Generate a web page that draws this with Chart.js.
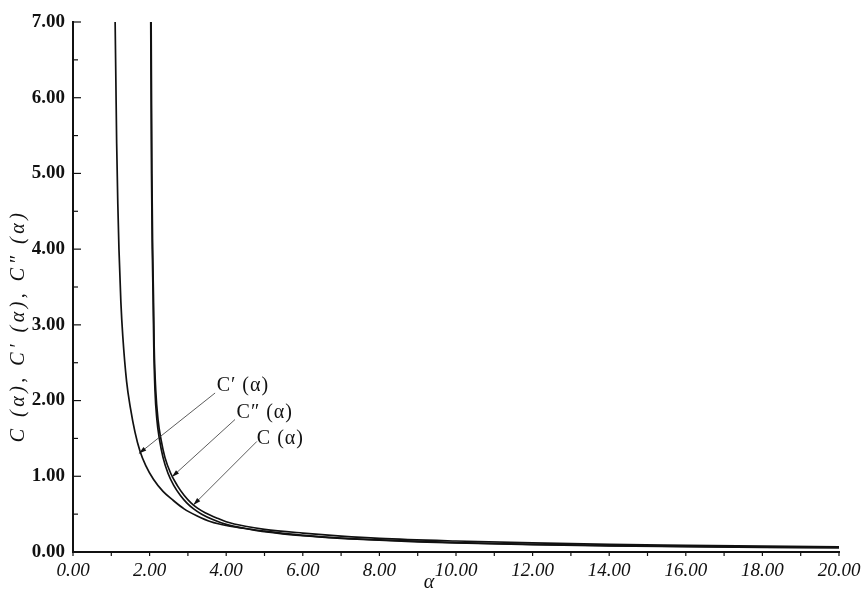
<!DOCTYPE html>
<html>
<head>
<meta charset="utf-8">
<script src="https://cdn.jsdelivr.net/npm/chart.js@4.4.1/dist/chart.umd.min.js"></script>
<style>
    html, body { margin: 0; padding: 0; background: #fff; }
    #wrap { width: 861px; height: 596px; }
</style>
</head>
<body>
<div id="wrap"><canvas id="curveChart" width="861" height="596"></canvas></div>
<script>
// Values (alpha, value)
var alphaCp = [1.10, 1.12, 1.14, 1.17, 1.20, 1.25, 1.30, 1.40, 1.50, 1.62, 1.75, 1.90, 2.10, 2.35, 2.62, 2.90, 3.23, 3.60, 4.00, 4.50, 5.00, 6.00, 7.00, 8.00, 9.00, 10.0, 12.0, 14.0, 16.0, 18.0, 20.0];
var valueCp = [7.00, 6.20, 5.40, 4.60, 4.00, 3.30, 2.85, 2.25, 1.90, 1.58, 1.33, 1.14, 0.96, 0.80, 0.68, 0.57, 0.48, 0.40, 0.35, 0.31, 0.27, 0.215, 0.18, 0.155, 0.135, 0.12, 0.097, 0.082, 0.071, 0.062, 0.056];

var alphaCpp = [2.03, 2.05, 2.07, 2.09, 2.11, 2.14, 2.19, 2.26, 2.35, 2.48, 2.63, 2.80, 2.97, 3.15, 3.36, 3.65, 4.00, 4.50, 5.00, 6.00, 7.00, 8.00, 10.0, 12.0, 14.0, 16.0, 18.0, 20.0];
var valueCpp = [7.00, 5.00, 4.00, 3.40, 2.70, 2.14, 1.75, 1.48, 1.25, 1.04, 0.88, 0.75, 0.65, 0.57, 0.50, 0.43, 0.365, 0.31, 0.275, 0.22, 0.185, 0.16, 0.125, 0.10, 0.085, 0.074, 0.065, 0.058];

var alphaC = [2.04, 2.06, 2.08, 2.10, 2.12, 2.16, 2.22, 2.30, 2.40, 2.55, 2.72, 2.90, 3.08, 3.25, 3.45, 3.75, 4.00, 4.50, 5.00, 6.00, 7.00, 8.00, 10.0, 12.0, 14.0, 16.0, 18.0, 20.0];
var valueC = [7.00, 5.00, 4.00, 3.40, 2.70, 2.14, 1.75, 1.48, 1.25, 1.04, 0.88, 0.75, 0.65, 0.58, 0.52, 0.45, 0.40, 0.34, 0.30, 0.25, 0.21, 0.18, 0.145, 0.12, 0.10, 0.088, 0.077, 0.068];

// Curve labels with leader lines (data coordinates)
var labelTexts = ['C\u2032 (\u03b1)', 'C\u2033 (\u03b1)', 'C (\u03b1)'];
var labelAlpha = [3.75, 4.27, 4.80];
var labelValue = [2.19, 1.84, 1.49];
var leaderFromAlpha = [3.71, 4.23, 4.80];
var leaderFromValue = [2.10, 1.75, 1.46];
var leaderTipAlpha = [1.72, 2.58, 3.14];
var leaderTipValue = [1.30, 0.99, 0.62];

var xTitle = '\u03b1';
var yTitle = 'C (\u03b1), C\u2032 (\u03b1), C\u2033 (\u03b1)';

function toPoints(xs, ys) {
    return xs.map(function(x, i) { return { x: x, y: ys[i] }; });
}

function curve(label, xs, ys) {
    return {
        label: label,
        data: toPoints(xs, ys),
        showLine: true,
        borderColor: '#111',
        borderWidth: 1.7,
        pointRadius: 0,
        cubicInterpolationMode: 'monotone',
        fill: false
    };
}

var decorPlugin = {
    id: 'decor',
    afterDraw: function(chart) {
        var ctx = chart.ctx;
        var xs = chart.scales.x, ys = chart.scales.y;
        var area = chart.chartArea;
        ctx.save();
        ctx.strokeStyle = '#111';
        ctx.lineWidth = 1.2;
        // inner ticks on the value axis
        for (var v = 0; v <= 7.001; v += 0.5) {
            var py = ys.getPixelForValue(v);
            var len = (Math.abs(v - Math.round(v)) < 0.01) ? 8 : 5;
            ctx.beginPath();
            ctx.moveTo(area.left, py);
            ctx.lineTo(area.left + len, py);
            ctx.stroke();
        }
        // small ticks below the alpha axis
        for (var a = 0; a <= 20.001; a += 1) {
            var px = xs.getPixelForValue(a);
            ctx.beginPath();
            ctx.moveTo(px, area.bottom);
            ctx.lineTo(px, area.bottom + 4);
            ctx.stroke();
        }
        // leader lines with arrow heads
        ctx.lineWidth = 0.8;
        ctx.strokeStyle = '#333';
        ctx.fillStyle = '#111';
        for (var i = 0; i < labelTexts.length; i++) {
            var x0 = xs.getPixelForValue(leaderFromAlpha[i]);
            var y0 = ys.getPixelForValue(leaderFromValue[i]);
            var x1 = xs.getPixelForValue(leaderTipAlpha[i]);
            var y1 = ys.getPixelForValue(leaderTipValue[i]);
            ctx.beginPath();
            ctx.moveTo(x0, y0);
            ctx.lineTo(x1, y1);
            ctx.stroke();
            var ang = Math.atan2(y1 - y0, x1 - x0);
            ctx.beginPath();
            ctx.moveTo(x1, y1);
            ctx.lineTo(x1 - 8 * Math.cos(ang - 0.28), y1 - 8 * Math.sin(ang - 0.28));
            ctx.lineTo(x1 - 8 * Math.cos(ang + 0.28), y1 - 8 * Math.sin(ang + 0.28));
            ctx.closePath();
            ctx.fill();
            ctx.font = '20px "Liberation Serif"';
            ctx.letterSpacing = '1px';
            ctx.textAlign = 'left';
            ctx.textBaseline = 'middle';
            ctx.fillText(labelTexts[i], xs.getPixelForValue(labelAlpha[i]), ys.getPixelForValue(labelValue[i]));
        }
        // axis titles
        ctx.fillStyle = '#111';
        ctx.font = 'italic 20px "Liberation Serif"';
        ctx.letterSpacing = '0px';
        ctx.textAlign = 'center';
        ctx.textBaseline = 'middle';
        ctx.fillText(xTitle, 429, 583);
        ctx.translate(19, 326);
        ctx.rotate(-Math.PI / 2);
        ctx.font = 'italic 20px "Liberation Serif"';
        ctx.letterSpacing = '3.5px';
        ctx.fillText(yTitle, 0, 0);
        ctx.restore();
    }
};

document.addEventListener('DOMContentLoaded', function() {
    var canvas = document.getElementById('curveChart');
    new Chart(canvas.getContext('2d'), {
        type: 'scatter',
        data: {
            datasets: [
                curve('C\u2032(\u03b1)', alphaCp, valueCp),
                curve('C\u2033(\u03b1)', alphaCpp, valueCpp),
                curve('C(\u03b1)', alphaC, valueC)
            ]
        },
        options: {
            responsive: false,
            animation: false,
            layout: { padding: { top: 22, right: 22, left: 0, bottom: 0 } },
            plugins: {
                legend: { display: false },
                tooltip: { enabled: false }
            },
            scales: {
                x: {
                    type: 'linear',
                    min: 0,
                    max: 20,
                    grid: { display: false },
                    border: { display: true, color: '#111', width: 2 },
                    ticks: {
                        stepSize: 2,
                        padding: 0,
                        maxRotation: 0,
                        color: '#111',
                        font: { family: 'Liberation Serif', size: 19, style: 'italic' },
                        callback: function(v) { return v.toFixed(2); }
                    },
                    afterFit: function(scale) { scale.height = 44; }
                },
                y: {
                    type: 'linear',
                    min: 0,
                    max: 7,
                    grid: { display: false },
                    border: { display: true, color: '#111', width: 2 },
                    ticks: {
                        stepSize: 1,
                        padding: 0,
                        color: '#111',
                        font: { family: 'Liberation Serif', size: 19, weight: 'bold' },
                        callback: function(v) { return v.toFixed(2); }
                    },
                    afterFit: function(scale) { scale.width = 73; }
                }
            }
        },
        plugins: [decorPlugin]
    });
});
</script>
</body>
</html>
